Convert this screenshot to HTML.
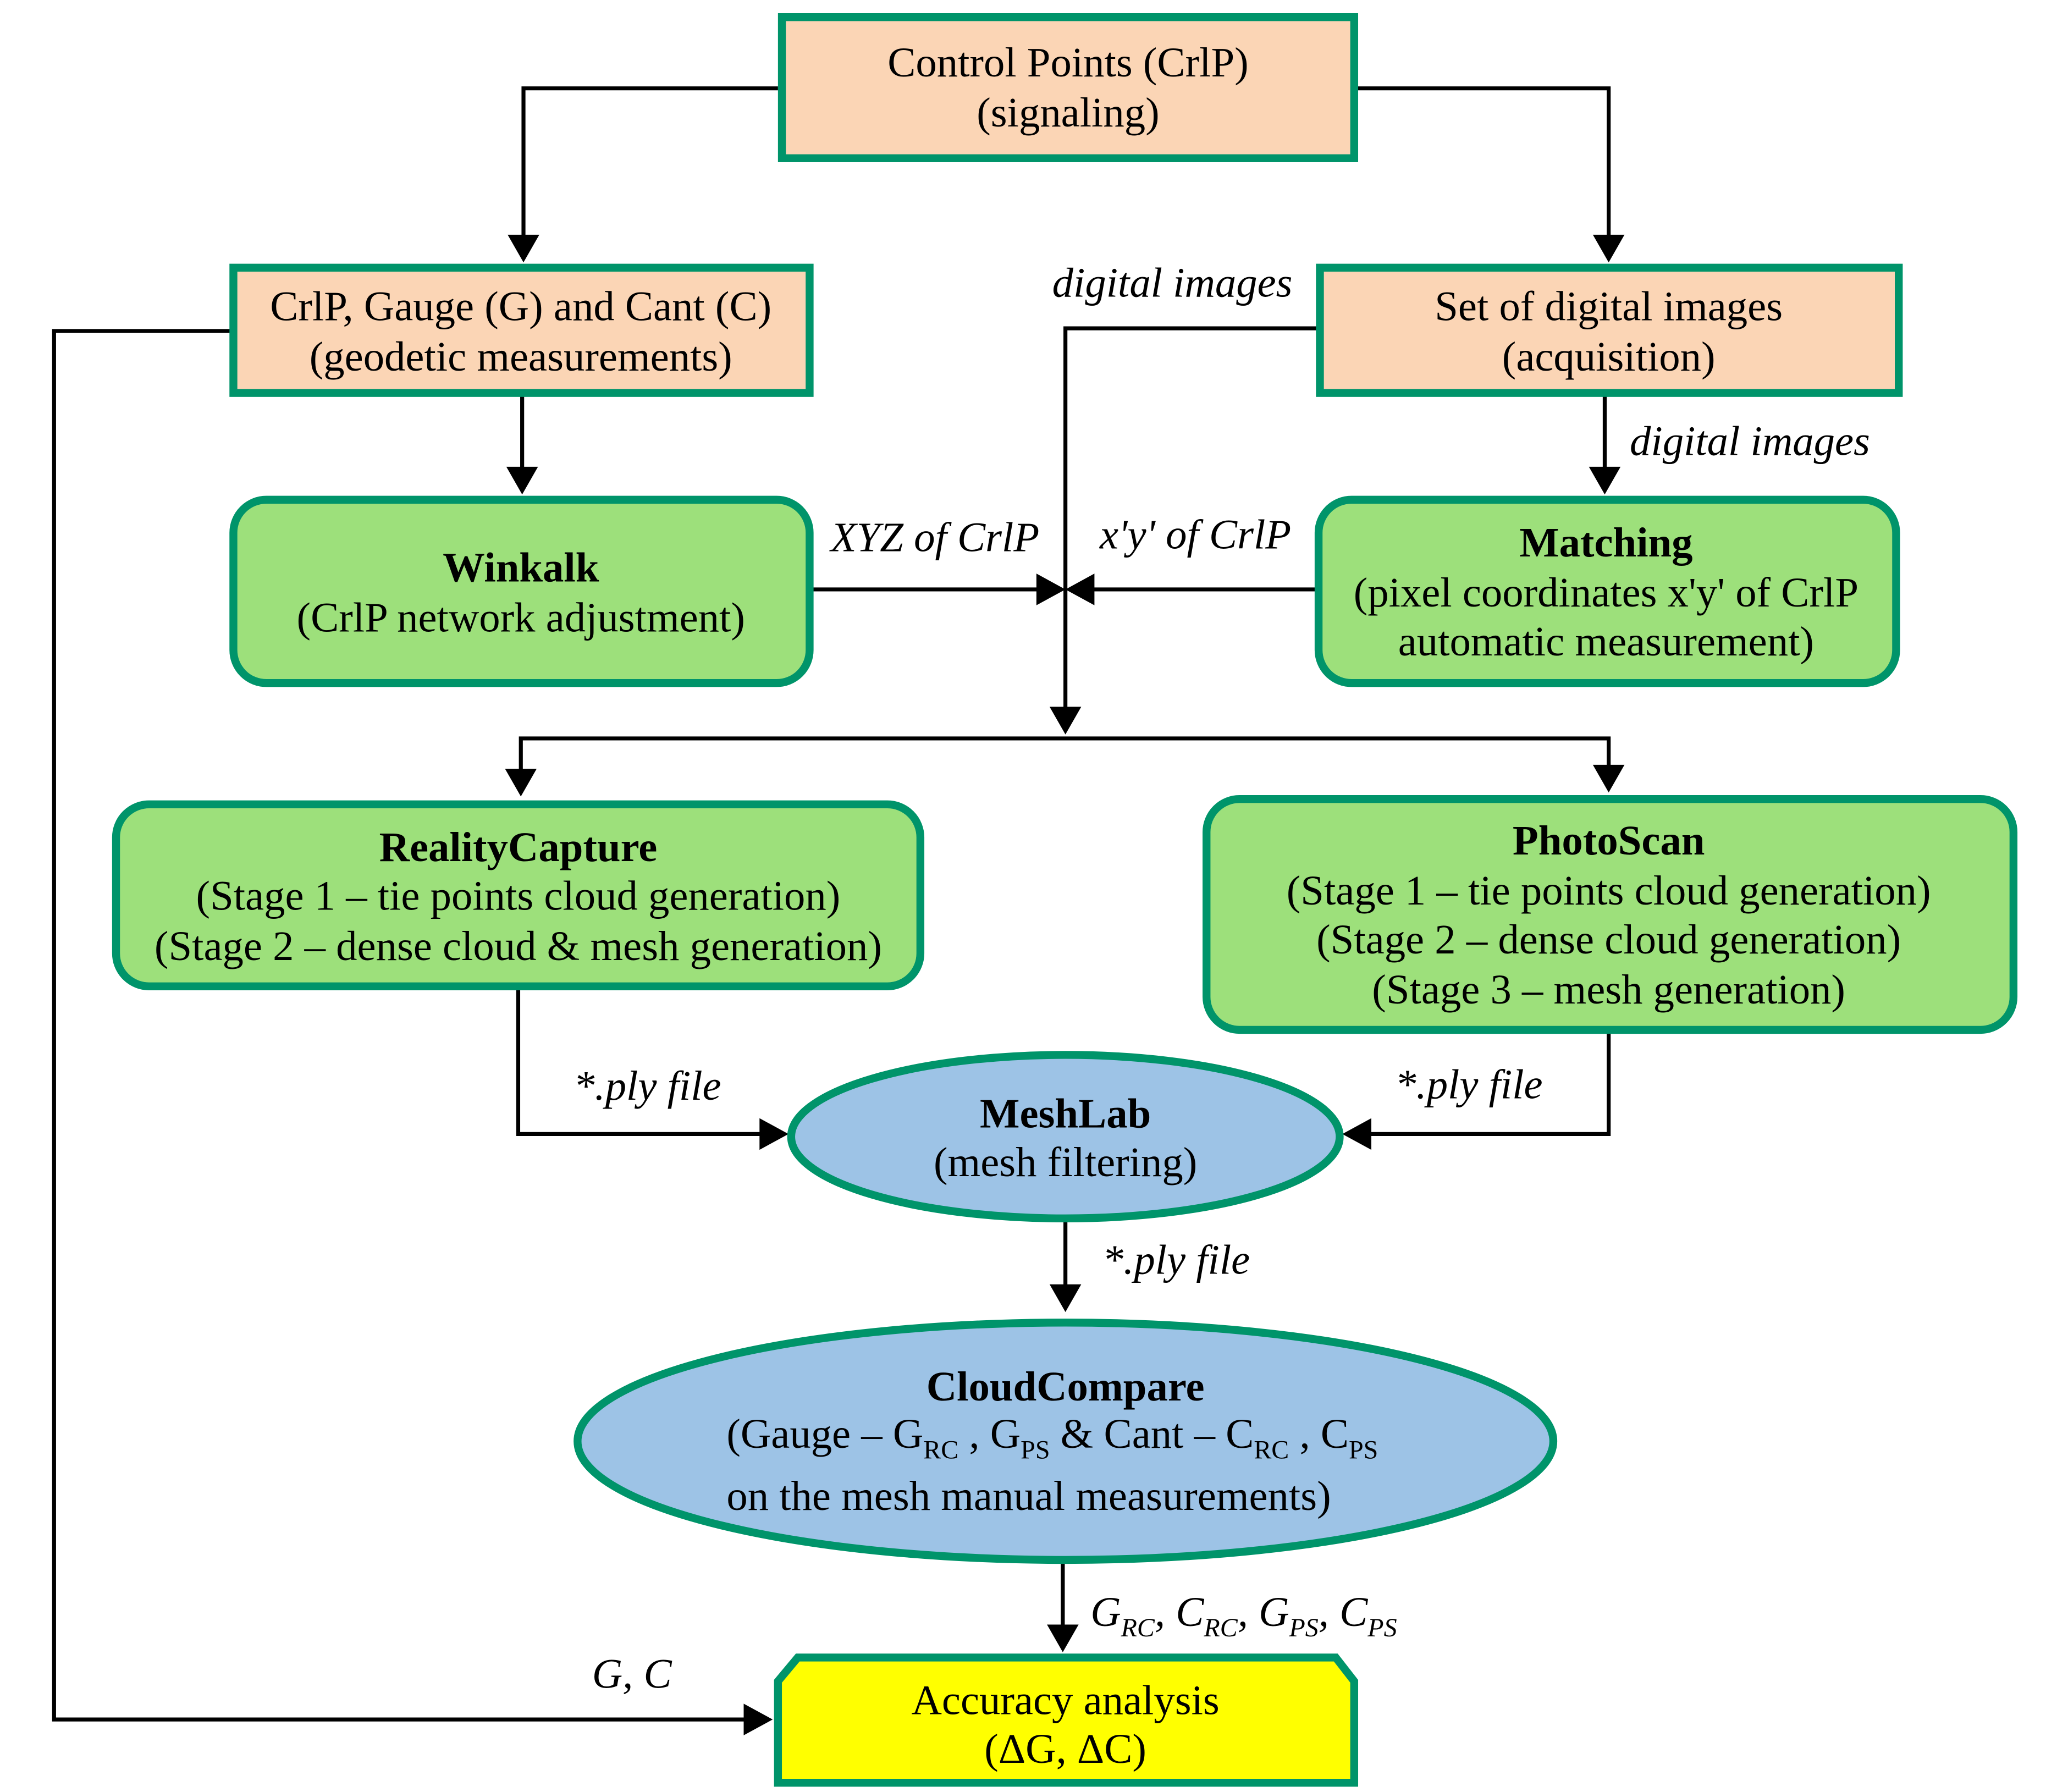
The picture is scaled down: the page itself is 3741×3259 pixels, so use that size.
<!DOCTYPE html>
<html><head><meta charset="utf-8"><style>
html,body{margin:0;padding:0;background:#fff}
svg{display:block}
svg text{font-family:"Liberation Serif","Times New Roman",serif !important;font-size:32px;fill:#000}
.i{font-style:italic}
.b{font-weight:bold}
</style></head><body>
<svg width="3741" height="3259" viewBox="0 0 1560 1359" xmlns="http://www.w3.org/2000/svg" font-family="Liberation Serif, serif">
<g fill="none" stroke="#000" stroke-width="3">
<polyline points="590,67 397,67 397,180"/>
<polyline points="1027,67 1220,67 1220,180"/>
<polyline points="396,298 396,356"/>
<polyline points="177,251 41,251 41,1304 566,1304"/>
<polyline points="1217,298 1217,356"/>
<polyline points="1001,249 808,249 808,538"/>
<polyline points="614,447 790,447"/>
<polyline points="1000,447 826,447"/>
<polyline points="395,585 395,560 1220,560 1220,582"/>
<polyline points="393,748 393,860 578,860"/>
<polyline points="1220,781 1220,860 1038,860"/>
<polyline points="808,924 808,976"/>
<polyline points="806,1183 806,1234"/>
</g>
<g fill="#000">
<polygon points="385,178 409,178 397,199"/>
<polygon points="1208,178 1232,178 1220,199"/>
<polygon points="384,354 408,354 396,375"/>
<polygon points="1205,354 1229,354 1217,375"/>
<polygon points="796,536 820,536 808,557"/>
<polygon points="786,435 786,459 808,447"/>
<polygon points="830,435 830,459 808,447"/>
<polygon points="383,583 407,583 395,604"/>
<polygon points="1208,580 1232,580 1220,601"/>
<polygon points="576,848 576,872 598,860"/>
<polygon points="1040,848 1040,872 1018,860"/>
<polygon points="796,974 820,974 808,995"/>
<polygon points="794,1232 818,1232 806,1253"/>
<polygon points="564,1292 564,1316 586,1304"/>
</g>
<g stroke="#00946a" stroke-width="6">
<rect x="593" y="13" width="434" height="107" fill="#fbd5b5"/>
<rect x="177" y="203" width="437" height="95" fill="#fbd5b5"/>
<rect x="1001" y="203" width="439" height="95" fill="#fbd5b5"/>
<rect x="177" y="379" width="437" height="139" rx="25" fill="#9de07b"/>
<rect x="1000" y="379" width="438" height="139" rx="25" fill="#9de07b"/>
<rect x="88" y="610" width="610" height="138" rx="25" fill="#9de07b"/>
<rect x="915" y="606" width="612" height="175" rx="25" fill="#9de07b"/>
<ellipse cx="808" cy="862" rx="208" ry="62" fill="#9dc3e6"/>
<ellipse cx="808" cy="1093" rx="370" ry="90" fill="#9dc3e6"/>
<polygon points="605,1257 1013,1257 1027,1275 1027,1352 590,1352 590,1275" fill="#ffff00"/>
</g>
<g text-anchor="middle">
<text x="810" y="58">Control Points (CrlP)</text>
<text x="810" y="96">(signaling)</text>
<text x="395" y="243">CrlP, Gauge (G) and Cant (C)</text>
<text x="395" y="281">(geodetic measurements)</text>
<text x="1220" y="243">Set of digital images</text>
<text x="1220" y="281">(acquisition)</text>
<text x="395" y="441" class="b">Winkalk</text>
<text x="395" y="479">(CrlP network adjustment)</text>
<text x="1218" y="422" class="b">Matching</text>
<text x="1218" y="460">(pixel coordinates x'y' of CrlP</text>
<text x="1218" y="497">automatic measurement)</text>
<text x="393" y="653" class="b">RealityCapture</text>
<text x="393" y="690">(Stage 1 – tie points cloud generation)</text>
<text x="393" y="728">(Stage 2 – dense cloud &amp; mesh generation)</text>
<text x="1220" y="648" class="b">PhotoScan</text>
<text x="1220" y="686">(Stage 1 – tie points cloud generation)</text>
<text x="1220" y="723">(Stage 2 – dense cloud generation)</text>
<text x="1220" y="761">(Stage 3 – mesh generation)</text>
<text x="808" y="855" class="b">MeshLab</text>
<text x="808" y="892">(mesh filtering)</text>
<text x="808" y="1062" class="b">CloudCompare</text>
<text x="808" y="1300">Accuracy analysis</text>
<text x="808" y="1337">(ΔG, ΔC)</text>
</g>
<text x="551" y="1098">(Gauge – G<tspan font-size="20" dy="8">RC</tspan><tspan dy="-8"> , G</tspan><tspan font-size="20" dy="8">PS</tspan><tspan dy="-8"> &amp; Cant – C</tspan><tspan font-size="20" dy="8">RC</tspan><tspan dy="-8"> , C</tspan><tspan font-size="20" dy="8">PS</tspan></text>
<text x="551" y="1145">on the mesh manual  measurements)</text>
<text x="827" y="1233" class="i">G<tspan font-size="20" dy="8">RC</tspan><tspan dy="-8">, C</tspan><tspan font-size="20" dy="8">RC</tspan><tspan dy="-8">, G</tspan><tspan font-size="20" dy="8">PS</tspan><tspan dy="-8">, C</tspan><tspan font-size="20" dy="8">PS</tspan></text>
<text x="798" y="225" class="i">digital images</text>
<text x="1236" y="345" class="i">digital images</text>
<text x="630" y="418" class="i">XYZ of CrlP</text>
<text x="834" y="416" class="i">x'y' of CrlP</text>
<text x="435" y="834" class="i">*.ply file</text>
<text x="1058" y="833" class="i">*.ply file</text>
<text x="836" y="966" class="i">*.ply file</text>
<text x="449" y="1280" class="i">G, C</text>
</svg>
</body></html>
